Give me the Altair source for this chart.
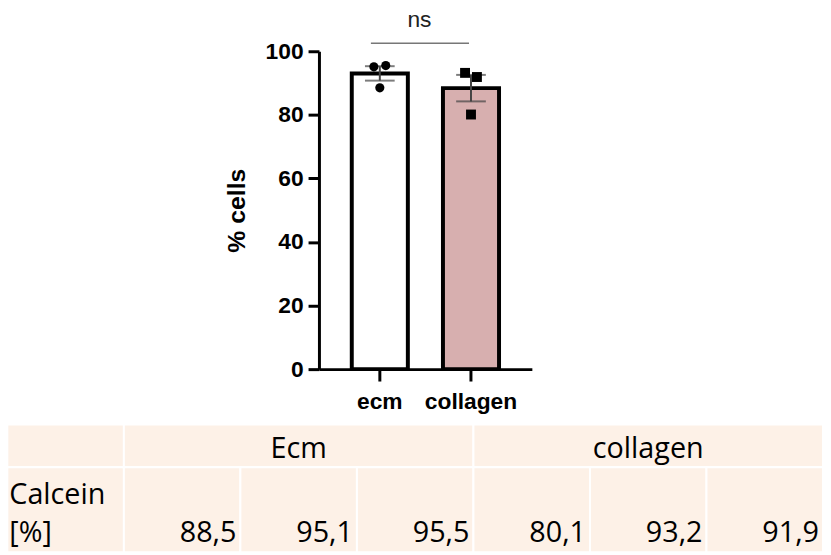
import altair as alt
import pandas as pd

# ---- data ----
groups = ["ecm", "collagen"]
ecm_values = [88.5, 95.1, 95.5]
collagen_values = [80.1, 93.2, 91.9]
reps = ["r1", "r2", "r3"]
y_ticks = [0, 20, 40, 60, 80, 100]
bar_fills = ["#FFFFFF", "#D7AFAF"]
point_shapes = ["circle", "square"]
table_header = ["Ecm", "collagen"]
row_label = "Calcein\n[%]"
ns_label = "ns"

W, H = 823, 547

points = pd.DataFrame({
    "group": ["ecm"] * 3 + ["collagen"] * 3,
    "rep": reps * 2,
    "value": ecm_values + collagen_values,
})

x_scale = alt.Scale(domain=groups, range=[314, 529], paddingInner=0.385, paddingOuter=0.36)
y_scale = alt.Scale(domain=[0, 100], range=[362, 41])

x_axis = alt.Axis(
    title=None, labelAngle=0, grid=False,
    domainColor="black", domainWidth=3, tickColor="black", tickWidth=3, tickSize=12,
    labelFont="Liberation Sans", labelFontWeight="bold", labelFontSize=23, labelColor="black",
    labelPadding=10, offset=-(H - 362),
)
y_axis = alt.Axis(
    title="% cells", values=y_ticks, grid=False,
    domainColor="black", domainWidth=3, tickColor="black", tickWidth=3, tickSize=11,
    labelFont="Liberation Sans", labelFontWeight="bold", labelFontSize=23, labelColor="black",
    labelPadding=5, titleFont="Liberation Sans", titleFontWeight="bold", titleFontSize=25,
    titleColor="black", titlePadding=16, offset=-314,
)

X = alt.X("group:N", sort=groups, scale=x_scale, axis=x_axis)

base = alt.Chart(points)

bars = base.mark_bar(stroke="black", strokeWidth=4).encode(
    x=X,
    y=alt.Y("mean(value):Q", scale=y_scale, axis=y_axis),
    fill=alt.Fill("group:N", scale=alt.Scale(domain=groups, range=bar_fills), legend=None),
)

err = base.transform_aggregate(
    m="mean(value)", se="stderr(value)", groupby=["group"]
).transform_calculate(lo="datum.m - datum.se", hi="datum.m + datum.se")

err_rule = err.mark_rule(color="#444444", strokeWidth=2).encode(
    x=X, y=alt.Y("lo:Q", scale=y_scale, axis=y_axis), y2="hi:Q"
)
err_hi = err.mark_tick(color="#444444", thickness=2, size=30).encode(
    x=X, y=alt.Y("hi:Q", scale=y_scale, axis=y_axis)
)
err_lo = err.mark_tick(color="#444444", thickness=2, size=30).encode(
    x=X, y=alt.Y("lo:Q", scale=y_scale, axis=y_axis)
)

def point_layer(rep, offset):
    return base.transform_filter(alt.datum.rep == rep).mark_point(
        filled=True, color="black", opacity=1, xOffset=offset
    ).encode(
        x=X,
        y=alt.Y("value:Q", scale=y_scale, axis=y_axis),
        shape=alt.Shape("group:N", scale=alt.Scale(domain=groups, range=point_shapes), legend=None),
        size=alt.Size("group:O", scale=alt.Scale(domain=groups, range=[85, 100]), legend=None),
    )

pts_center = point_layer("r1", 0)
pts_left = point_layer("r2", -6)
pts_right = point_layer("r3", 6)

ns_df = pd.DataFrame({"a": [groups[0]], "b": [groups[1]], "label": [ns_label]})
ns_rule = alt.Chart(ns_df).mark_rule(color="#777777", strokeWidth=1.5, xOffset=-9, x2Offset=-2).encode(
    x=alt.X("a:N", sort=groups, scale=x_scale, axis=x_axis), x2="b:N",
    y=alt.Y("yv:Q", scale=y_scale, axis=y_axis),
).transform_calculate(yv="102.5")
ns_text = alt.Chart(ns_df).mark_text(
    font="Liberation Sans", fontSize=23, color="#222222", dx=40, baseline="alphabetic", align="center"
).encode(
    x=alt.X("a:N", sort=groups, scale=x_scale, axis=x_axis),
    y=alt.Y("yv:Q", scale=y_scale, axis=y_axis),
    text="label:N",
).transform_calculate(yv="107.5")

top = alt.layer(bars, err_rule, err_hi, err_lo, pts_center, pts_left, pts_right, ns_rule, ns_text)

# ---- table ----
cells = [{"x0": 0, "x1": 1, "y0": 0, "y1": 1},
         {"x0": 1, "x1": 4, "y0": 0, "y1": 1},
         {"x0": 4, "x1": 7, "y0": 0, "y1": 1},
         {"x0": 0, "x1": 1, "y0": 1, "y1": 3}]
for i in range(6):
    cells.append({"x0": 1 + i, "x1": 2 + i, "y0": 1, "y1": 3})
cells_df = pd.DataFrame(cells)

tx = alt.Scale(domain=[0, 7], range=[-0.67, 823])
ty = alt.Scale(domain=[0, 3], range=[418, 547])

rects = alt.Chart(cells_df).mark_rect(fill="#FDF1E7", stroke="white", strokeWidth=2).encode(
    x=alt.X("x0:Q", scale=tx, axis=None), x2="x1:Q",
    y=alt.Y("y0:Q", scale=ty, axis=None), y2="y1:Q",
)

header_df = pd.DataFrame({"xc": [2.5, 5.5], "yb": [1, 1], "label": table_header})
header_text = alt.Chart(header_df).mark_text(
    font="Open Sans", fontSize=29, color="black", align="center", baseline="alphabetic", dy=-9
).encode(x=alt.X("xc:Q", scale=tx, axis=None), y=alt.Y("yb:Q", scale=ty, axis=None), text="label:N")

label_df = pd.DataFrame({"xl": [0], "yt": [1], "label": [row_label]})
label_text = alt.Chart(label_df).mark_text(
    font="Open Sans", fontSize=29, color="black", align="left", baseline="alphabetic",
    dx=2, dy=37, lineBreak="\n", lineHeight=39
).encode(x=alt.X("xl:Q", scale=tx, axis=None), y=alt.Y("yt:Q", scale=ty, axis=None), text="label:N")

vals_df = pd.DataFrame({
    "xr": [2 + i for i in range(6)],
    "yb": [3] * 6,
    "label": [f"{v:.1f}".replace(".", ",") for v in ecm_values + collagen_values],
})
vals_text = alt.Chart(vals_df).mark_text(
    font="Open Sans", fontSize=29, color="black", align="right", baseline="alphabetic", dx=-4, dy=-10
).encode(x=alt.X("xr:Q", scale=tx, axis=None), y=alt.Y("yb:Q", scale=ty, axis=None), text="label:N")

table = alt.layer(rects, header_text, label_text, vals_text)

chart = alt.layer(top, table).resolve_scale(
    x="independent", y="independent"
).properties(
    width=W, height=H, autosize="none", padding=0, background="white"
).configure_view(stroke=None)

chart.save("out.html", embed_options={"renderer": "svg", "actions": False})
